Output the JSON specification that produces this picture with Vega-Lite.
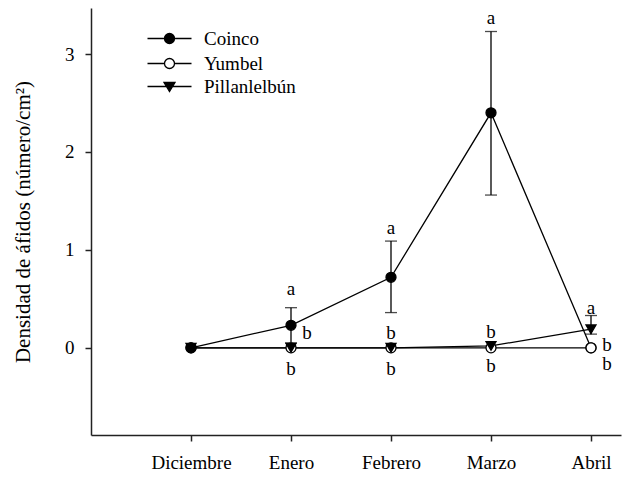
{
  "$schema": "https://vega.github.io/schema/vega-lite/v6.json",
  "width": 530,
  "height": 427,
  "autosize": {"type": "none"},
  "padding": {"left": 91, "top": 8, "right": 2, "bottom": 42},
  "background": "white",
  "config": {
    "view": {"stroke": null},
    "font": "Liberation Serif",
    "axis": {
      "grid": false,
      "domainColor": "#222",
      "domainWidth": 1.5,
      "tickColor": "#222",
      "tickWidth": 1.5,
      "tickSize": 6,
      "labelFont": "Liberation Serif",
      "labelFontSize": 19,
      "labelColor": "black",
      "titleFont": "Liberation Serif",
      "titleFontSize": 21,
      "titleFontWeight": "normal",
      "titleColor": "black"
    },
    "legend": {
      "orient": "none",
      "legendX": 69,
      "title": null,
      "labelFont": "Liberation Serif",
      "labelFontSize": 19,
      "labelColor": "black",
      "labelOffset": 25,
      "rowPadding": 5,
      "symbolSize": 100,
      "symbolStrokeColor": "black",
      "symbolStrokeWidth": 1.3
    }
  },
  "datasets": {
    "d": [
      {"m": 0, "mes": "Diciembre", "serie": "Yumbel", "v": 0},
      {"m": 0, "mes": "Diciembre", "serie": "Coinco", "v": 0},
      {"m": 0, "mes": "Diciembre", "serie": "Pillanlelbún", "v": 0},
      {"m": 1, "mes": "Enero", "serie": "Yumbel", "v": 0},
      {"m": 1, "mes": "Enero", "serie": "Coinco", "v": 0.23, "lo": 0.05, "hi": 0.41},
      {"m": 1, "mes": "Enero", "serie": "Pillanlelbún", "v": 0},
      {"m": 2, "mes": "Febrero", "serie": "Yumbel", "v": 0},
      {"m": 2, "mes": "Febrero", "serie": "Coinco", "v": 0.72, "lo": 0.36, "hi": 1.09},
      {"m": 2, "mes": "Febrero", "serie": "Pillanlelbún", "v": 0},
      {"m": 3, "mes": "Marzo", "serie": "Yumbel", "v": 0},
      {"m": 3, "mes": "Marzo", "serie": "Coinco", "v": 2.4, "lo": 1.56, "hi": 3.23},
      {"m": 3, "mes": "Marzo", "serie": "Pillanlelbún", "v": 0.02},
      {"m": 4, "mes": "Abril", "serie": "Coinco", "v": 0},
      {"m": 4, "mes": "Abril", "serie": "Yumbel", "v": 0},
      {"m": 4, "mes": "Abril", "serie": "Pillanlelbún", "v": 0.19, "lo": 0.14, "hi": 0.33}
    ],
    "letras": [
      {"m": 1, "y": 0.6, "t": "a", "pos": "c"},
      {"m": 1, "y": 0.15, "t": "b", "pos": "r"},
      {"m": 1, "y": -0.22, "t": "b", "pos": "c"},
      {"m": 2, "y": 1.22, "t": "a", "pos": "c"},
      {"m": 2, "y": 0.15, "t": "b", "pos": "c"},
      {"m": 2, "y": -0.22, "t": "b", "pos": "c"},
      {"m": 3, "y": 3.37, "t": "a", "pos": "c"},
      {"m": 3, "y": 0.16, "t": "b", "pos": "c"},
      {"m": 3, "y": -0.19, "t": "b", "pos": "c"},
      {"m": 4, "y": 0.41, "t": "a", "pos": "c"},
      {"m": 4, "y": 0.03, "t": "b", "pos": "r"},
      {"m": 4, "y": -0.17, "t": "b", "pos": "r"}
    ]
  },
  "encoding": {
    "x": {
      "field": "m",
      "type": "quantitative",
      "scale": {"domain": [-1, 4.3], "nice": false, "zero": false},
      "axis": {
        "values": [0, 1, 2, 3, 4],
        "labelExpr": "['Diciembre','Enero','Febrero','Marzo','Abril'][datum.value]",
        "title": null,
        "labelPadding": 12
      }
    },
    "y": {
      "field": "v",
      "type": "quantitative",
      "scale": {"domain": [-0.89, 3.47], "nice": false, "zero": false},
      "axis": {
        "values": [0, 1, 2, 3],
        "format": "d",
        "title": "Densidad de áfidos (número/cm²)",
        "labelPadding": 11,
        "titlePadding": 31
      }
    }
  },
  "resolve": {"scale": {"fill": "independent"}},
  "layer": [
    {
      "data": {"name": "d"},
      "mark": {"type": "line", "color": "black", "strokeWidth": 1.3},
      "encoding": {"detail": {"field": "serie", "type": "nominal"}}
    },
    {
      "data": {"name": "d"},
      "transform": [{"filter": "isValid(datum.hi)"}],
      "mark": {"type": "rule", "color": "black", "strokeWidth": 1.3},
      "encoding": {"y": {"field": "lo", "type": "quantitative"}, "y2": {"field": "hi"}}
    },
    {
      "data": {"name": "d"},
      "transform": [{"filter": "isValid(datum.hi)"}],
      "mark": {"type": "tick", "orient": "horizontal", "color": "black", "size": 12, "thickness": 1.3},
      "encoding": {"y": {"field": "hi", "type": "quantitative"}}
    },
    {
      "data": {"name": "d"},
      "transform": [{"filter": "isValid(datum.lo)"}],
      "mark": {"type": "tick", "orient": "horizontal", "color": "black", "size": 12, "thickness": 1.3},
      "encoding": {"y": {"field": "lo", "type": "quantitative"}}
    },
    {
      "data": {"name": "d"},
      "transform": [{"filter": "datum.serie !== 'Pillanlelbún'"}],
      "mark": {"type": "point", "shape": "circle", "stroke": "black", "strokeWidth": 1.3, "opacity": 1, "fillOpacity": 1, "size": 100},
      "encoding": {
        "fill": {
          "field": "serie",
          "type": "nominal",
          "scale": {"domain": ["Coinco", "Yumbel"], "range": ["black", "white"]},
          "legend": {
            "legendY": 21,
            "symbolType": "M -4.4 0 L -1 0 M 1 0 L 4.4 0 M 1 0 A 1 1 0 1 1 -1 0 A 1 1 0 1 1 1 0 Z",
            "encode": {
              "symbols": {
                "stroke": {"value": "black"},
                "strokeWidth": {"value": 1.3}
              }
            }
          }
        }
      }
    },
    {
      "data": {"name": "d"},
      "transform": [{"filter": "datum.serie === 'Pillanlelbún'"}],
      "mark": {"type": "point", "shape": "triangle-down", "stroke": "black", "strokeWidth": 1.3, "opacity": 1, "fillOpacity": 1, "size": 100},
      "encoding": {
        "fill": {
          "field": "serie",
          "type": "nominal",
          "scale": {"domain": ["Pillanlelbún"], "range": ["black"]},
          "legend": {
            "legendY": 69,
            "symbolType": "M -4.4 0 L 4.4 0 M -1.1 -0.8 L 1.1 -0.8 L 0 1 Z",
            "encode": {
              "symbols": {
                "stroke": {"value": "black"},
                "strokeWidth": {"value": 1.3}
              }
            }
          }
        }
      }
    },
    {
      "data": {"name": "letras"},
      "transform": [{"filter": "datum.pos === 'c'"}],
      "mark": {"type": "text", "font": "Liberation Serif", "fontSize": 19, "fill": "black", "baseline": "middle", "align": "center"},
      "encoding": {"y": {"field": "y", "type": "quantitative"}, "text": {"field": "t"}}
    },
    {
      "data": {"name": "letras"},
      "transform": [{"filter": "datum.pos === 'r'"}],
      "mark": {"type": "text", "font": "Liberation Serif", "fontSize": 19, "fill": "black", "baseline": "middle", "align": "center", "dx": 16},
      "encoding": {"y": {"field": "y", "type": "quantitative"}, "text": {"field": "t"}}
    }
  ]
}
